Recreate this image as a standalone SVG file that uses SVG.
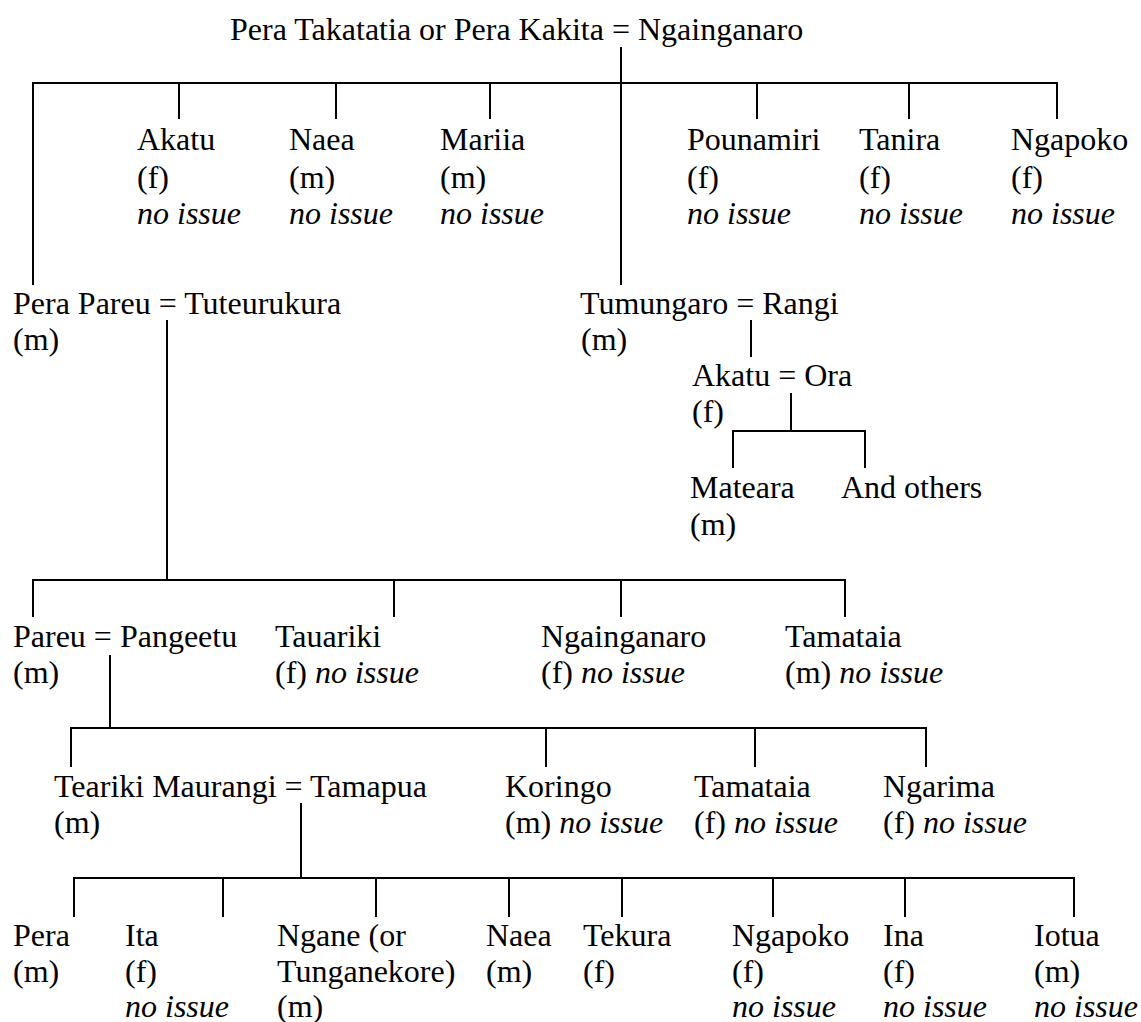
<svg xmlns="http://www.w3.org/2000/svg" width="1141" height="1022" viewBox="0 0 1141 1022">
<style>
text{font-family:"Liberation Serif","Times New Roman",serif;font-size:32px;fill:#000}
.i{font-style:italic}
#connectors line{stroke:#000;stroke-width:2;fill:none}
</style>
<rect width="1141" height="1022" fill="#fff"/>
<g id="connectors">
<line x1="621" y1="47" x2="621" y2="285"/>
<line x1="32" y1="83" x2="1058" y2="83"/>
<line x1="33" y1="83" x2="33" y2="285"/>
<line x1="179" y1="83" x2="179" y2="119"/>
<line x1="336" y1="83" x2="336" y2="119"/>
<line x1="490" y1="83" x2="490" y2="119"/>
<line x1="757" y1="83" x2="757" y2="119"/>
<line x1="909" y1="83" x2="909" y2="119"/>
<line x1="1057" y1="83" x2="1057" y2="119"/>
<line x1="167" y1="320" x2="167" y2="580"/>
<line x1="751" y1="320" x2="751" y2="357"/>
<line x1="791" y1="393" x2="791" y2="431"/>
<line x1="732" y1="431" x2="866" y2="431"/>
<line x1="733" y1="431" x2="733" y2="468"/>
<line x1="865" y1="431" x2="865" y2="468"/>
<line x1="32" y1="580" x2="846" y2="580"/>
<line x1="33" y1="580" x2="33" y2="617"/>
<line x1="394" y1="580" x2="394" y2="617"/>
<line x1="621" y1="580" x2="621" y2="617"/>
<line x1="845" y1="580" x2="845" y2="617"/>
<line x1="110" y1="655" x2="110" y2="728"/>
<line x1="70" y1="728" x2="927" y2="728"/>
<line x1="71" y1="728" x2="71" y2="767"/>
<line x1="546" y1="728" x2="546" y2="767"/>
<line x1="755" y1="728" x2="755" y2="767"/>
<line x1="926" y1="728" x2="926" y2="767"/>
<line x1="301" y1="803" x2="301" y2="878"/>
<line x1="73" y1="878" x2="1075" y2="878"/>
<line x1="74" y1="878" x2="74" y2="917"/>
<line x1="223" y1="878" x2="223" y2="917"/>
<line x1="376" y1="878" x2="376" y2="917"/>
<line x1="509" y1="878" x2="509" y2="917"/>
<line x1="622" y1="878" x2="622" y2="917"/>
<line x1="773" y1="878" x2="773" y2="917"/>
<line x1="905" y1="878" x2="905" y2="917"/>
<line x1="1074" y1="878" x2="1074" y2="917"/>
</g>
<g id="n-root"><text x="230" y="40">Pera Takatatia or Pera Kakita = Ngainganaro</text></g>
<g id="n-akatu1"><text x="137" y="150">Akatu</text><text x="137" y="188">(f)</text><text class="i" x="137" y="224">no issue</text></g>
<g id="n-naea1"><text x="289" y="150">Naea</text><text x="289" y="188">(m)</text><text class="i" x="289" y="224">no issue</text></g>
<g id="n-mariia"><text x="440" y="150">Mariia</text><text x="440" y="188">(m)</text><text class="i" x="440" y="224">no issue</text></g>
<g id="n-pounamiri"><text x="687" y="150">Pounamiri</text><text x="687" y="188">(f)</text><text class="i" x="687" y="224">no issue</text></g>
<g id="n-tanira"><text x="859" y="150">Tanira</text><text x="859" y="188">(f)</text><text class="i" x="859" y="224">no issue</text></g>
<g id="n-ngapoko1"><text x="1011" y="150">Ngapoko</text><text x="1011" y="188">(f)</text><text class="i" x="1011" y="224">no issue</text></g>
<g id="n-perapareu"><text x="13" y="314">Pera Pareu = Tuteurukura</text><text x="13" y="350">(m)</text></g>
<g id="n-tumungaro"><text x="580" y="314">Tumungaro = Rangi</text><text x="581" y="350">(m)</text></g>
<g id="n-akatu2"><text x="692" y="386">Akatu = Ora</text><text x="692" y="422">(f)</text></g>
<g id="n-mateara"><text x="690" y="498">Mateara</text><text x="690" y="535">(m)</text></g>
<g id="n-others"><text x="841" y="498">And others</text></g>
<g id="n-pareu"><text x="13" y="647">Pareu = Pangeetu</text><text x="13" y="683">(m)</text></g>
<g id="n-tauariki"><text x="275" y="647">Tauariki</text><text x="275" y="683">(f) <tspan class="i">no issue</tspan></text></g>
<g id="n-ngainganaro2"><text x="541" y="647">Ngainganaro</text><text x="541" y="683">(f) <tspan class="i">no issue</tspan></text></g>
<g id="n-tamataia1"><text x="785" y="647">Tamataia</text><text x="785" y="683">(m) <tspan class="i">no issue</tspan></text></g>
<g id="n-teariki"><text x="54" y="797">Teariki Maurangi = Tamapua</text><text x="54" y="833">(m)</text></g>
<g id="n-koringo"><text x="505" y="797">Koringo</text><text x="505" y="833">(m) <tspan class="i">no issue</tspan></text></g>
<g id="n-tamataia2"><text x="694" y="797">Tamataia</text><text x="694" y="833">(f) <tspan class="i">no issue</tspan></text></g>
<g id="n-ngarima"><text x="883" y="797">Ngarima</text><text x="883" y="833">(f) <tspan class="i">no issue</tspan></text></g>
<g id="n-pera"><text x="13" y="946">Pera</text><text x="13" y="982">(m)</text></g>
<g id="n-ita"><text x="125" y="946">Ita</text><text x="125" y="982">(f)</text><text class="i" x="125" y="1017">no issue</text></g>
<g id="n-ngane"><text x="277" y="946">Ngane (or</text><text x="277" y="982">Tunganekore)</text><text x="277" y="1017">(m)</text></g>
<g id="n-naea2"><text x="486" y="946">Naea</text><text x="486" y="982">(m)</text></g>
<g id="n-tekura"><text x="583" y="946">Tekura</text><text x="583" y="982">(f)</text></g>
<g id="n-ngapoko2"><text x="732" y="946">Ngapoko</text><text x="732" y="982">(f)</text><text class="i" x="732" y="1017">no issue</text></g>
<g id="n-ina"><text x="883" y="946">Ina</text><text x="883" y="982">(f)</text><text class="i" x="883" y="1017">no issue</text></g>
<g id="n-iotua"><text x="1034" y="946">Iotua</text><text x="1034" y="982">(m)</text><text class="i" x="1034" y="1017">no issue</text></g>
</svg>
